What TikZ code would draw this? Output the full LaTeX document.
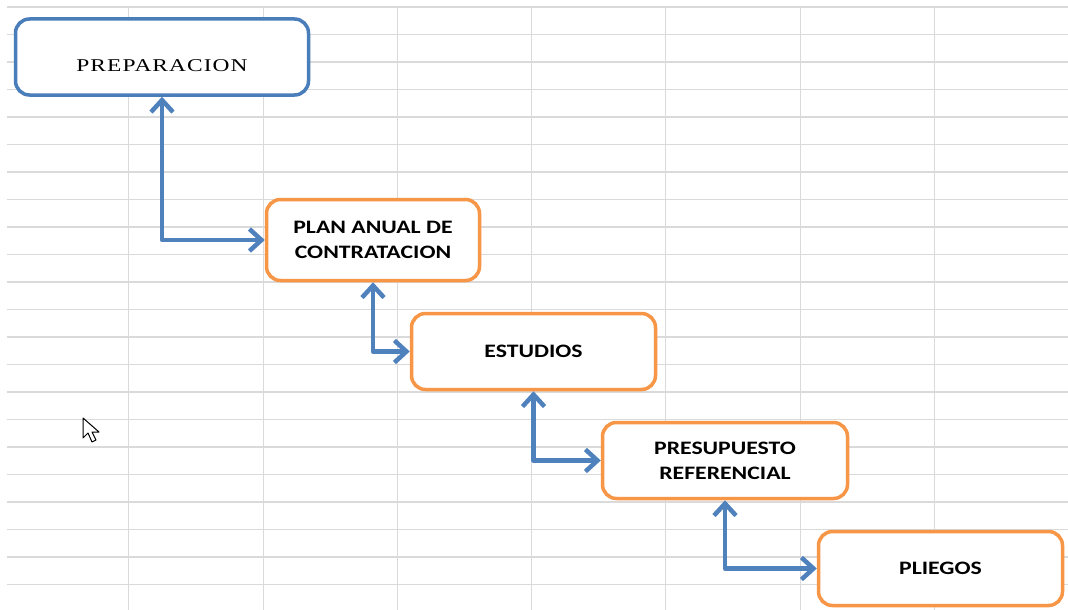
\documentclass[tikz,border=0pt]{standalone}
\usepackage{fontspec}
\usetikzlibrary{arrows.meta}
\newfontfamily\prepfont[FakeStretch=1.3,LetterSpace=6]{Liberation Serif}
\newfontfamily\stepfont[FakeStretch=1.25]{Carlito}
\definecolor{boxblue}{HTML}{4A7EBB}
\definecolor{boxorange}{HTML}{F79646}
\definecolor{linkblue}{HTML}{4F81BD}
\definecolor{gridgray}{HTML}{DADADA}

\begin{document}
\begin{tikzpicture}[
                x=1pt, y=-1pt,
                every node/.append style={rectangle,rounded corners=14pt,line width=3.5pt,fill=white,inner sep=0pt},
                first/.style={draw=boxblue,minimum width=293pt,minimum height=76pt,
                    font=\prepfont\fontsize{18}{20}\selectfont,text height=32pt,text depth=2pt},
                stage/.style={draw=boxorange,font=\stepfont\bfseries\fontsize{19}{25}\selectfont,align=center},
                link/.style={draw=linkblue,line width=4.5pt,line join=round,
                    {Straight Barb[length=12pt,width=22pt]}-{Straight Barb[length=12pt,width=22pt]}}
            ]
                \fill[white] (0,0) rectangle (1068,610);
                \useasboundingbox (0,0) rectangle (1068,610);
                % sheet grid
                \foreach \k in {0,...,21}
                    \draw[gridgray,line width=1.5pt] (7,{7+27.5*\k}) -- (1068,{7+27.5*\k});
                \foreach \gx in {128.5,263.5,397.5,531.5,665.5,800.5,934.5}
                    \draw[gridgray,line width=1.5pt] (\gx,6) -- (\gx,610);
                \node[first] (PR) at (162,57) {PREPARACION};
                \node[stage,minimum width=213pt,minimum height=81pt] (PA) at (373,240)   {PLAN ANUAL DE\\CONTRATACION};
                \node[stage,minimum width=244pt,minimum height=76pt] (ES) at (533.5,351.5) {ESTUDIOS};
                \node[stage,minimum width=245pt,minimum height=76pt] (PE) at (725,460.5)  {PRESUPUESTO\\REFERENCIAL};
                \node[stage,minimum width=244pt,minimum height=74pt] (PL) at (940.5,568.5) {PLIEGOS};
                \draw[link] (PR.south) |- (PA.west);
                \draw[link] (PA.south) |- (ES.west);
                \draw[link] (ES.south) |- (PE.west);
                \draw[link] (PE.south) |- (PL.west);
                % mouse pointer
                \draw[black,fill=white,line width=1pt,line join=round]
                    (83,418) -- (83,438) -- (88,433) -- (92,442) -- (96,440) -- (92,432) -- (99,432) -- cycle;
            \end{tikzpicture}
\end{document}
